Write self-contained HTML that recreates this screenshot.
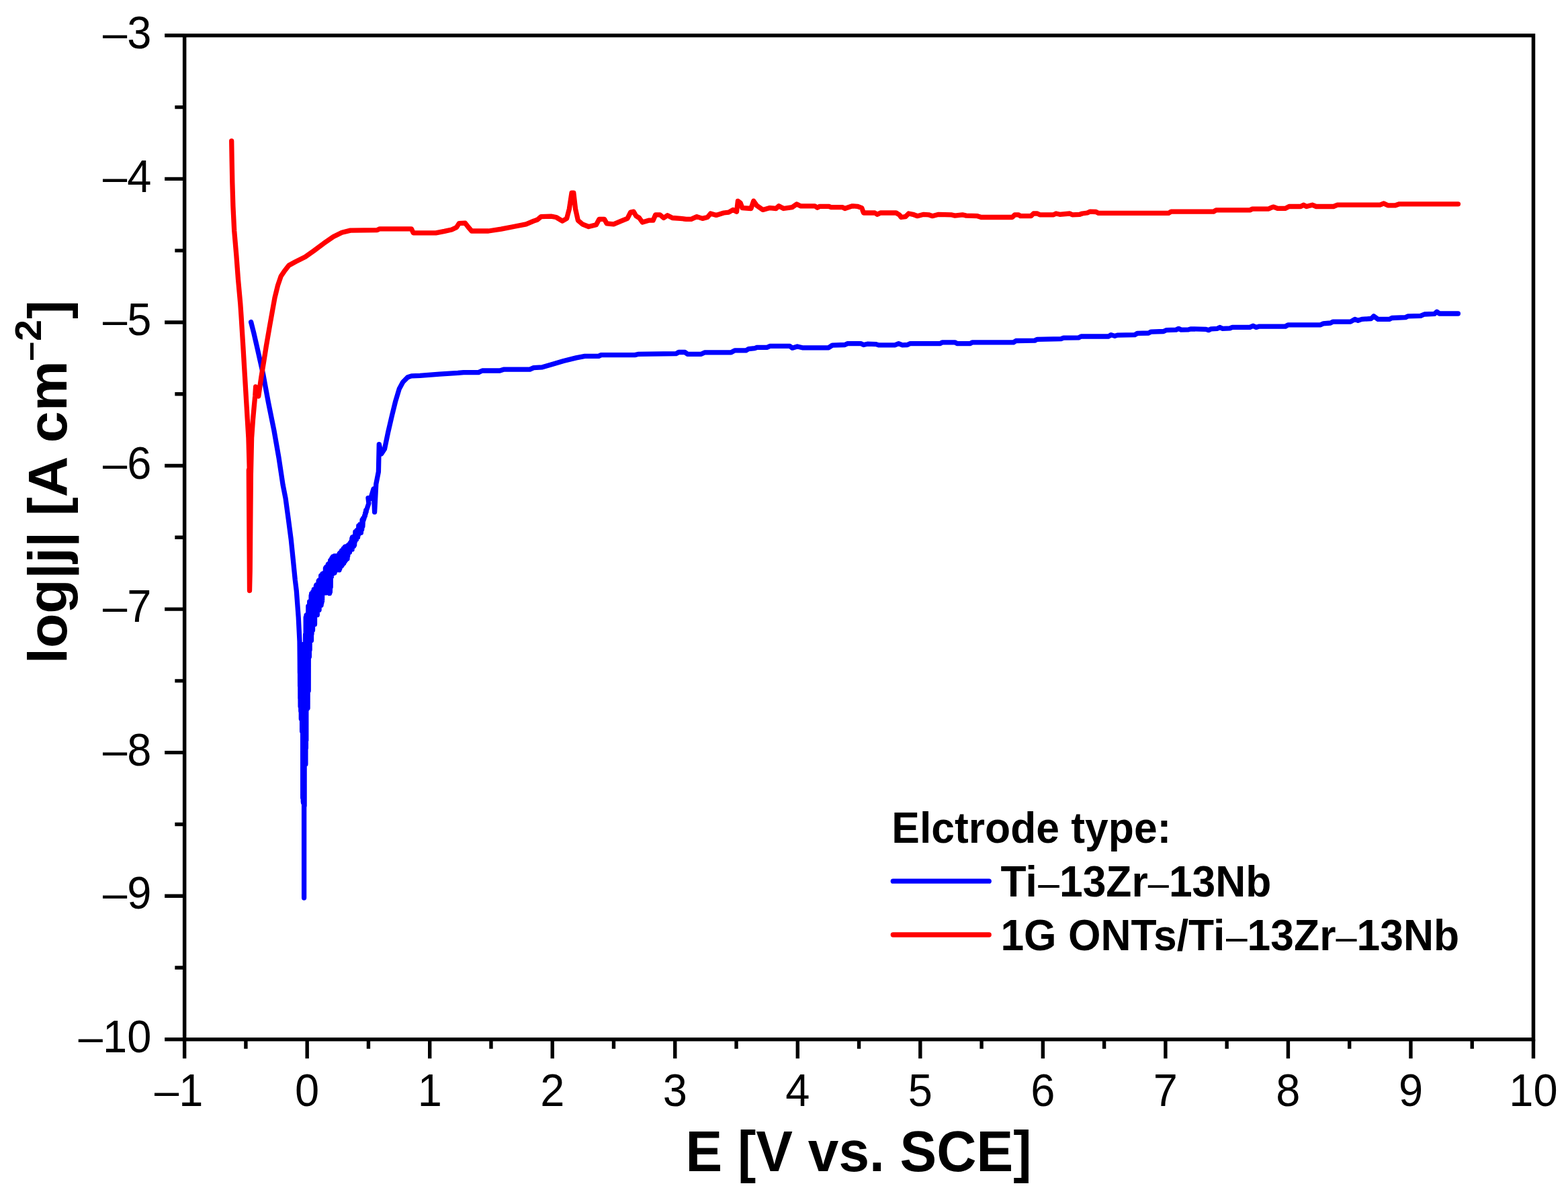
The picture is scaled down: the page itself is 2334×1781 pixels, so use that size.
<!DOCTYPE html>
<html lang="en"><head><meta charset="utf-8"><title>Potentiodynamic polarization curves</title>
<style>html,body{margin:0;padding:0;background:#fff;}body{width:2334px;height:1781px;overflow:hidden;}svg{display:block;}text{font-family:"Liberation Sans",sans-serif;fill:#000;}.b{font-weight:bold;}.n{font-weight:normal;}</style></head><body>
<svg width="2334" height="1781" viewBox="0 0 2334 1781">
<rect width="2334" height="1781" fill="#fff"/>
<g fill="none" stroke-linecap="round" stroke-linejoin="round" stroke-width="7.3">
<polyline stroke="#0000ff" points="373.6,479.5 378.1,497.2 382.7,517.2 387.2,537.2 391.7,557.2 395.5,578.0 399.6,600.0 407.9,641.0 415.0,681.5 421.1,722.0 425.1,742.2 429.2,772.6 433.2,803.0 436.3,833.3 439.3,863.6 441.3,880.0 444.2,919.0 446.0,955.0 446.3,985.0 446.3,985.8 446.4,1002.2 446.5,988.4 446.6,1021.7 446.7,983.1 446.9,1040.1 446.9,987.9 447.1,1052.1 447.2,995.3 447.4,1044.1 447.5,1017.3 447.6,1030.2 447.7,979.5 447.8,1059.0 447.9,978.9 448.1,1049.2 448.2,990.3 448.3,1070.6 448.4,997.9 448.5,1069.3 448.7,984.4 448.8,1044.9 448.9,975.1 449.0,1067.1 449.2,1000.3 449.3,1030.1 449.4,978.6 449.6,1089.1 449.7,966.1 449.8,1060.3 450.0,1022.1 450.1,1088.9 450.2,992.8 450.4,1089.9 450.5,984.8 450.7,1188.3 450.8,1007.9 451.0,1113.2 451.1,976.8 451.3,1193.7 451.4,962.5 451.5,1195.2 451.6,960.9 451.7,1179.6 451.9,959.4 452.0,1163.6 452.2,1039.5 452.4,1190.6 452.5,973.7 452.6,1337.0 452.7,1088.7 452.8,960.0 452.9,1193.3 453.0,996.4 453.1,1200.0 453.2,968.0 453.4,1083.7 453.5,980.2 453.6,1131.1 453.8,1037.6 454.2,1076.5 454.6,944.7 454.9,1137.9 455.2,919.4 455.4,1114.1 455.6,928.3 455.8,1102.6 456.0,916.2 456.3,1056.9 456.7,939.4 456.9,1051.7 457.2,919.7 457.4,1002.9 457.8,923.2 458.1,1054.6 458.3,913.5 458.6,1002.8 458.8,902.7 459.2,1028.8 459.4,916.3 459.6,970.4 460.1,928.7 460.4,978.1 460.7,896.0 461.1,967.8 461.5,896.2 461.8,949.9 462.2,921.0 462.7,947.3 463.1,886.9 463.5,953.8 463.7,883.8 464.0,943.9 464.4,910.6 464.7,916.1 465.2,908.5 465.5,938.6 465.8,881.2 466.0,926.9 466.5,899.3 466.9,923.4 467.3,877.6 467.7,909.7 468.1,891.6 468.5,929.6 468.9,877.5 469.3,902.0 469.7,877.4 470.1,910.5 470.4,872.3 470.6,901.5 471.1,871.0 471.5,895.2 471.9,871.6 472.3,915.6 472.5,890.0 472.9,907.2 473.4,870.0 473.8,895.4 474.1,865.5 474.4,908.8 474.8,864.1 475.1,908.2 475.6,863.8 475.9,898.9 476.4,863.4 476.8,898.9 477.2,864.2 477.4,899.1 477.7,857.1 478.1,901.3 478.4,867.8 478.8,898.0 479.2,861.5 479.6,894.9 480.0,854.5 480.3,878.9 480.6,857.8 481.0,870.5 481.4,857.2 481.7,879.4 482.1,853.3 482.5,879.7 483.0,857.0 483.4,867.5 483.7,852.9 484.2,870.2 484.4,846.3 484.8,882.9 485.0,845.1 485.4,871.0 485.9,844.1 486.3,874.0 486.6,858.2 487.1,881.5 487.5,844.3 487.9,861.8 488.3,840.4 488.7,876.3 489.0,839.7 489.3,870.7 489.5,844.9 489.8,882.8 490.1,846.1 490.5,883.6 491.0,850.9 491.4,881.5 491.7,834.7 492.2,874.3 492.4,837.2 492.9,857.5 493.1,832.8 493.6,858.4 494.0,831.2 494.3,851.9 494.6,830.3 495.1,849.5 495.5,828.9 496.0,854.0 496.4,830.5 496.7,849.7 497.2,828.7 497.4,849.7 497.7,827.9 498.0,852.9 498.2,828.9 498.5,845.4 498.8,830.8 499.0,850.8 499.3,828.4 499.5,845.5 499.8,828.0 500.2,841.1 500.5,835.5 501.0,848.3 501.8,829.0 502.3,844.9 503.1,827.4 503.8,843.6 504.4,826.8 504.9,848.9 505.3,824.1 505.9,846.6 506.3,823.1 507.0,836.7 507.7,821.9 508.1,843.1 508.6,819.8 509.2,841.7 509.9,828.8 510.5,839.8 511.3,816.7 511.8,838.6 512.3,817.4 512.8,836.6 513.4,814.3 513.8,835.5 514.3,813.8 514.6,834.1 515.0,817.1 515.6,828.5 516.2,818.3 517.0,832.1 517.4,822.5 517.8,827.6 518.4,811.7 519.1,821.3 519.7,813.7 520.5,822.4 521.0,808.9 521.7,816.1 522.4,806.9 523.2,815.5 523.8,801.8 524.2,818.2 524.6,799.9 525.4,814.1 526.0,801.1 526.6,813.3 526.9,801.9 527.6,811.7 528.1,797.5 528.5,806.4 528.9,792.0 529.3,804.2 529.7,795.1 530.5,803.4 531.0,789.9 531.7,797.6 532.3,788.8 532.6,800.1 533.0,788.5 533.5,796.5 533.8,782.9 534.2,794.3 534.9,784.5 535.3,794.1 535.9,780.9 536.2,788.4 536.6,785.8 537.4,793.3 537.9,781.4 538.7,788.4 539.1,774.2 539.9,783.7 540.5,771.9 541.1,774.8 541.4,772.3 542.0,771.9 542.6,768.0 543.4,768.1 543.7,763.8 544.2,765.1 544.7,760.0 545.2,762.0 545.2,760.6 548.9,749.7 548.0,741.6 551.6,742.5 556.1,727.9 557.6,762.5 559.8,720.7 563.4,702.5 564.3,661.6 567.6,676.0 572.5,668.5 577.9,642.6 583.4,619.0 588.8,597.2 594.3,579.0 599.7,569.0 607.0,561.7 612.4,559.9 625.2,559.4 654.2,557.2 681.5,555.4 690.0,554.6 712.3,554.6 717.9,552.0 744.0,552.0 749.6,550.2 788.7,550.2 794.3,547.7 807.3,546.8 820.3,543.1 838.9,537.5 857.6,532.9 870.6,530.4 891.1,530.4 894.8,528.6 945.1,528.6 950.7,527.3 1006.5,526.7 1010.2,524.5 1019.5,524.5 1023.3,527.3 1043.8,527.3 1049.3,524.8 1088.4,524.8 1093.7,521.9 1110.5,521.9 1114.2,519.7 1123.5,518.6 1127.2,517.3 1142.1,517.3 1145.9,515.4 1175.6,515.4 1179.4,518.2 1186.8,516.0 1194.3,517.8 1233.4,517.8 1238.9,514.1 1257.6,513.5 1261.3,511.7 1281.8,511.7 1285.5,513.5 1291.1,512.2 1304.1,512.6 1307.8,513.9 1332.0,513.9 1337.6,511.7 1343.2,513.9 1350.7,513.5 1354.4,511.7 1399.1,511.7 1402.8,509.8 1421.4,509.8 1425.1,511.7 1443.8,511.7 1447.5,509.8 1508.6,509.9 1512.3,507.5 1540.3,507.1 1544.0,505.3 1579.4,504.7 1583.1,503.2 1605.4,502.9 1609.2,501.0 1650.1,501.0 1653.8,498.6 1659.4,500.4 1663.2,499.1 1689.2,498.6 1692.9,496.3 1709.7,496.0 1713.4,494.1 1732.0,493.5 1735.8,491.7 1750.7,491.1 1754.4,489.3 1758.1,491.1 1769.3,490.8 1773.0,489.8 1795.3,490.4 1799.1,491.7 1802.8,489.8 1812.1,489.3 1815.8,487.4 1819.5,489.3 1830.7,488.9 1834.4,487.4 1860.5,487.4 1865.2,485.2 1869.8,487.4 1874.5,486.1 1913.5,486.0 1917.2,483.8 1965.6,483.8 1969.4,481.9 1980.5,481.0 1984.3,479.1 2010.3,479.1 2016.8,475.4 2021.5,477.3 2027.1,475.4 2041.0,474.5 2044.8,470.8 2051.3,475.4 2068.0,475.4 2071.8,473.5 2092.2,472.6 2096.0,470.8 2114.6,470.4 2120.2,468.0 2135.1,467.4 2138.8,464.2 2142.5,467.0 2170.4,467.0"/>
<polyline stroke="#ff0000" points="344.7,210.0 345.2,240.0 345.8,270.8 346.9,307.2 348.7,343.5 351.8,379.8 354.5,416.1 357.8,452.5 359.0,470.0 361.8,515.4 364.5,560.8 367.2,606.2 369.9,651.7 371.2,697.1 370.3,700.0 370.8,775.0 371.5,879.5 372.2,850.0 372.8,775.0 373.4,706.0 374.6,652.0 376.5,625.0 378.2,606.0 379.7,590.0 380.6,576.0 384.8,590.0 386.5,578.0 389.0,560.8 392.6,539.0 396.3,515.4 401.2,487.0 405.4,463.4 409.0,443.4 413.5,425.2 418.1,411.6 423.5,403.4 429.9,395.3 439.9,389.8 454.4,382.5 467.1,373.5 481.7,362.6 496.2,352.6 508.9,346.2 521.6,343.1 561.6,342.6 565.2,340.8 612.4,340.8 615.2,346.8 648.8,346.8 661.5,344.4 672.4,342.0 679.7,338.4 683.3,332.6 692.4,332.2 696.9,338.0 702.1,344.0 712.3,344.0 727.2,344.0 745.9,341.2 764.5,337.5 783.1,333.8 794.3,329.1 799.8,327.3 805.4,322.6 820.3,322.2 827.8,323.5 837.1,329.1 843.6,325.4 847.3,311.4 851.0,287.2 853.8,287.2 856.6,311.4 860.4,328.2 866.9,333.8 876.2,337.5 887.4,334.7 892.0,326.3 899.5,326.3 903.2,332.9 913.4,333.8 924.6,329.1 933.9,325.4 938.6,316.1 943.2,315.2 946.9,321.7 951.6,324.5 956.2,331.0 965.6,328.2 972.1,328.2 975.8,319.8 982.3,319.8 987.9,324.5 993.5,320.8 1000.9,324.5 1013.0,325.4 1021.4,326.3 1028.9,326.3 1037.2,322.6 1045.6,325.4 1053.1,323.5 1057.7,318.0 1066.1,320.4 1077.3,317.0 1084.7,316.1 1091.2,312.4 1096.5,315.2 1098.4,299.3 1102.1,302.1 1104.9,309.6 1117.9,310.5 1121.7,299.3 1126.3,305.9 1135.6,312.4 1145.9,309.6 1155.2,310.5 1159.3,306.8 1166.3,310.5 1179.4,308.6 1185.9,304.0 1191.5,306.8 1212.9,306.8 1216.6,309.2 1220.3,307.3 1233.4,307.3 1237.1,308.6 1253.8,308.6 1257.6,310.5 1268.7,306.8 1276.2,307.3 1282.7,309.6 1285.5,317.0 1302.2,317.0 1306.0,319.3 1310.6,317.0 1333.9,317.0 1338.6,319.8 1341.4,323.5 1347.9,322.6 1352.5,318.0 1359.0,319.3 1365.6,321.7 1374.9,319.3 1382.3,319.8 1387.9,321.7 1397.2,319.3 1415.8,319.8 1421.4,321.1 1432.6,319.8 1438.2,321.1 1454.9,321.7 1460.5,323.5 1506.8,323.5 1510.5,319.8 1516.1,319.8 1518.9,321.7 1534.7,321.7 1538.4,318.0 1544.0,318.0 1547.7,319.8 1568.2,319.8 1571.9,318.0 1577.5,319.3 1592.4,318.0 1596.1,319.8 1607.3,319.3 1611.0,318.0 1618.5,317.0 1622.2,315.2 1631.5,315.5 1635.2,317.4 1739.5,317.4 1743.2,315.2 1806.5,315.2 1810.2,312.9 1860.5,312.9 1864.2,311.1 1888.4,311.1 1892.2,309.2 1895.8,308.1 1901.6,310.4 1913.0,310.4 1918.8,307.5 1936.1,307.5 1940.4,305.2 1944.7,307.5 1953.4,305.2 1959.1,307.5 1985.0,307.5 1990.8,305.2 2054.2,305.2 2059.9,302.9 2065.7,305.8 2077.2,305.8 2083.0,303.8 2170.5,303.8"/>
</g>
<g stroke="#000" fill="none" stroke-width="5.5" stroke-linecap="butt">
<rect x="274.65" y="52.80" width="2007.83" height="1494.99"/>
</g>
<path stroke="#000" stroke-width="5.4" fill="none" d="M274.65 1547.79V1576.29M365.91 1547.79V1561.79M457.18 1547.79V1576.29M548.44 1547.79V1561.79M639.71 1547.79V1576.29M730.97 1547.79V1561.79M822.24 1547.79V1576.29M913.50 1547.79V1561.79M1004.77 1547.79V1576.29M1096.03 1547.79V1561.79M1187.30 1547.79V1576.29M1278.57 1547.79V1561.79M1369.83 1547.79V1576.29M1461.09 1547.79V1561.79M1552.36 1547.79V1576.29M1643.62 1547.79V1561.79M1734.89 1547.79V1576.29M1826.16 1547.79V1561.79M1917.42 1547.79V1576.29M2008.68 1547.79V1561.79M2099.95 1547.79V1576.29M2191.22 1547.79V1561.79M2282.48 1547.79V1576.29M274.65 1547.79H245.15M274.65 1441.00H260.35M274.65 1334.22H245.15M274.65 1227.43H260.35M274.65 1120.65H245.15M274.65 1013.86H260.35M274.65 907.08H245.15M274.65 800.29H260.35M274.65 693.51H245.15M274.65 586.72H260.35M274.65 479.94H245.15M274.65 373.16H260.35M274.65 266.37H245.15M274.65 159.58H260.35M274.65 52.80H245.15"/>
<text transform="translate(225.30 1566.99) scale(1 1.05)" font-size="65" text-anchor="end">–10</text>
<text transform="translate(225.30 1353.42) scale(1 1.05)" font-size="65" text-anchor="end">–9</text>
<text transform="translate(225.30 1139.85) scale(1 1.05)" font-size="65" text-anchor="end">–8</text>
<text transform="translate(225.30 926.28) scale(1 1.05)" font-size="65" text-anchor="end">–7</text>
<text transform="translate(225.30 712.71) scale(1 1.05)" font-size="65" text-anchor="end">–6</text>
<text transform="translate(225.30 499.14) scale(1 1.05)" font-size="65" text-anchor="end">–5</text>
<text transform="translate(225.30 285.57) scale(1 1.05)" font-size="65" text-anchor="end">–4</text>
<text transform="translate(225.30 72.00) scale(1 1.05)" font-size="65" text-anchor="end">–3</text>
<text transform="translate(266.15 1646.90) scale(1 1.05)" font-size="65" text-anchor="middle">–1</text>
<text transform="translate(457.18 1646.90) scale(1 1.05)" font-size="65" text-anchor="middle">0</text>
<text transform="translate(639.71 1646.90) scale(1 1.05)" font-size="65" text-anchor="middle">1</text>
<text transform="translate(822.24 1646.90) scale(1 1.05)" font-size="65" text-anchor="middle">2</text>
<text transform="translate(1004.77 1646.90) scale(1 1.05)" font-size="65" text-anchor="middle">3</text>
<text transform="translate(1187.30 1646.90) scale(1 1.05)" font-size="65" text-anchor="middle">4</text>
<text transform="translate(1369.83 1646.90) scale(1 1.05)" font-size="65" text-anchor="middle">5</text>
<text transform="translate(1552.36 1646.90) scale(1 1.05)" font-size="65" text-anchor="middle">6</text>
<text transform="translate(1734.89 1646.90) scale(1 1.05)" font-size="65" text-anchor="middle">7</text>
<text transform="translate(1917.42 1646.90) scale(1 1.05)" font-size="65" text-anchor="middle">8</text>
<text transform="translate(2099.95 1646.90) scale(1 1.05)" font-size="65" text-anchor="middle">9</text>
<text transform="translate(2282.48 1646.90) scale(1 1.05)" font-size="65" text-anchor="middle">10</text>
<text transform="translate(1278.00 1744.20) scale(1 1.035)" font-size="82" text-anchor="middle" class="b">E [V vs. SCE]</text>
<text class="b" font-size="82" transform="translate(98.70 988.50) rotate(-90) scale(1.027 1)">log|j| [A cm<tspan font-size="50" dx="0" dy="-37.6">–</tspan><tspan font-size="56" dx="1">2</tspan><tspan dx="0.8" dy="37.6">]</tspan></text>
<text transform="translate(1327.30 1254.90) scale(1 1.035)" font-size="62.4" text-anchor="start" class="b">Elctrode type:</text>
<text transform="translate(1489.40 1335.30) scale(1 1.035)" font-size="62.4" text-anchor="start" class="b">Ti<tspan dx="1.5" class="n" font-size="57">–</tspan>13Zr<tspan class="n" font-size="56">–</tspan>13Nb</text>
<text transform="translate(1489.40 1414.80) scale(1 1.035)" font-size="62.4" text-anchor="start" class="b">1G ONTs/Ti<tspan dx="1.5" class="n" font-size="57">–</tspan>13Zr<tspan class="n" font-size="56">–</tspan>13Nb</text>
<g fill="none" stroke-linecap="round" stroke-width="7.3">
<line stroke="#0000ff" x1="1329.3" x2="1472.2" y1="1312.2" y2="1312.2"/>
<line stroke="#ff0000" x1="1329.3" x2="1472.2" y1="1392" y2="1392"/>
</g>
</svg></body></html>
